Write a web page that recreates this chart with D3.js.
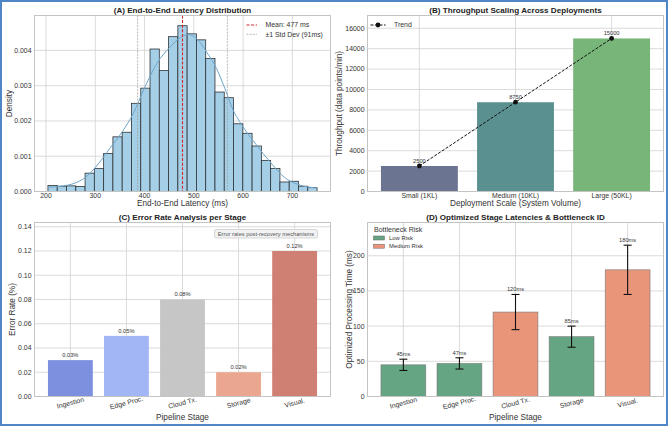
<!DOCTYPE html>
<meta charset="utf-8">
<script src="https://cdn.jsdelivr.net/npm/d3@7"></script>
<style>
  body { margin: 0; background: #fff; }
  text { font-family: "Liberation Sans", Arial, sans-serif; fill: #333; }
</style>
<div id="chart"></div>
<script>

// ---- data ----
// (A) latency histogram: 29 equal bins between latencyMin and latencyMax
var latencyMin = 204, latencyMax = 750;
var latencyDensity = [0.00017, 0.00015, 0.00016, 0.00014, 0.00052, 0.00065, 0.00108, 0.00155,
  0.00168, 0.0025, 0.00293, 0.00404, 0.00343, 0.00439, 0.0047, 0.00447, 0.0043, 0.00377,
  0.00282, 0.00266, 0.00192, 0.00165, 0.00129, 0.00088, 0.00065, 0.00027, 0.00029, 0.00015, 0.00011];
var kdeLatency = [204, 230, 255, 280, 300, 330, 355, 377, 401, 425, 452, 475, 489, 506, 526, 546, 563, 580, 593, 627, 654, 684, 721, 750];
var kdeDensity = [0.00012, 0.00015, 0.00022, 0.0004, 0.00068, 0.00123, 0.0017, 0.00221, 0.00297, 0.00363, 0.0041, 0.00438, 0.00445, 0.00433, 0.00395, 0.00349, 0.00292, 0.0023, 0.00198, 0.00132, 0.00085, 0.0004, 0.00016, 0.0001];
var meanLatency = 477, stdLatency = 91;
var latencyTicks = [200, 300, 400, 500, 600, 700];
var densityTicks = [0, 0.001, 0.002, 0.003, 0.004];

// (B) throughput
var deployments = ["Small (1KL)", "Medium (10KL)", "Large (50KL)"];
var throughput = [2500, 8750, 15000];
var throughputTicks = [0, 2000, 4000, 6000, 8000, 10000, 12000, 14000, 16000];
var deployColors = ["#6b7592", "#5a9190", "#78b578"];

// (C) error rates
var stages = ["Ingestion", "Edge Proc.", "Cloud Tx.", "Storage", "Visual."];
var errorRate = [0.03, 0.05, 0.08, 0.02, 0.12];
var errorTicks = [0, 0.02, 0.04, 0.06, 0.08, 0.10, 0.12, 0.14];
var stageColors = ["#7d90df", "#a2b6f6", "#c6c6c6", "#eba68f", "#d07f73"];

// (D) stage latencies
var stageLatency = [45, 47, 120, 85, 180];
var stageErr = [8, 8, 25, 15, 35];
var stageRisk = ["Low Risk", "Low Risk", "Medium Risk", "Low Risk", "Medium Risk"];
var stageTimeTicks = [0, 50, 100, 150, 200];
var riskColors = {"Low Risk": "#66a583", "Medium Risk": "#e9957a"};

var W = 669, H = 427;
var svg = d3.select("#chart").append("svg").attr("width", W).attr("height", H);
svg.append("rect").attr("width", W).attr("height", H).attr("fill", "#fff");

var tickFont = 6.9, labelFont = 8.2, titleFont = 8.1;

// panel frame + grid + labels
function panel(box, title, xlab, ylab, ylabX, xlabY) {
  var g = svg.append("g");
  g.append("rect").attr("x", box.x0).attr("y", box.y0)
    .attr("width", box.x1 - box.x0).attr("height", box.y1 - box.y0)
    .attr("fill", "#fff");
  g.append("text").attr("x", (box.x0 + box.x1) / 2).attr("y", box.y0 - 3)
    .attr("text-anchor", "middle").style("font-size", titleFont + "px")
    .style("font-weight", "bold").style("fill", "#222").text(title);
  g.append("text").attr("x", (box.x0 + box.x1) / 2).attr("y", xlabY)
    .attr("text-anchor", "middle").style("font-size", labelFont + "px").text(xlab);
  g.append("text").attr("transform", "translate(" + ylabX + "," + ((box.y0 + box.y1) / 2) + ") rotate(-90)")
    .attr("text-anchor", "middle").style("font-size", labelFont + "px").text(ylab);
  return g;
}
function frame(box) {
  svg.append("rect").attr("x", box.x0).attr("y", box.y0)
    .attr("width", box.x1 - box.x0).attr("height", box.y1 - box.y0)
    .attr("fill", "none").attr("stroke", "#c4c4c4").attr("stroke-width", 1);
}
function yGrid(g, box, y, ticks, fmt) {
  g.selectAll(null).data(ticks).enter().append("line")
    .attr("x1", box.x0).attr("x2", box.x1)
    .attr("y1", function(d) { return y(d); }).attr("y2", function(d) { return y(d); })
    .attr("stroke", "#d2d2d2").attr("stroke-width", 0.8);
  g.selectAll(null).data(ticks).enter().append("text")
    .attr("x", box.x0 - 3).attr("y", function(d) { return y(d); }).attr("dy", "0.35em")
    .attr("text-anchor", "end").style("font-size", tickFont + "px").text(fmt);
}
function xGrid(g, box, xs) {
  g.selectAll(null).data(xs).enter().append("line")
    .attr("y1", box.y0).attr("y2", box.y1)
    .attr("x1", function(d) { return d; }).attr("x2", function(d) { return d; })
    .attr("stroke", "#d2d2d2").attr("stroke-width", 0.8);
}

// ---------- (A) ----------
var boxA = {x0: 34.5, x1: 330.5, y0: 15.5, y1: 191.5};
var gA = panel(boxA, "(A) End-to-End Latency Distribution", "End-to-End Latency (ms)", "Density", 12, 205.5);
var xA = d3.scaleLinear().domain([176.7, 777.3]).range([boxA.x0, boxA.x1]);
var yA = d3.scaleLinear().domain([0, 0.00499]).range([boxA.y1, boxA.y0]);
xGrid(gA, boxA, latencyTicks.map(xA));
yGrid(gA, boxA, yA, densityTicks, d3.format(".3f"));
gA.selectAll(null).data(latencyTicks).enter().append("text")
  .attr("x", function(d) { return xA(d); }).attr("y", boxA.y1 + 6)
  .attr("text-anchor", "middle").style("font-size", tickFont + "px").text(function(d) { return d; });

var binW = (latencyMax - latencyMin) / latencyDensity.length;
gA.selectAll(".bin").data(latencyDensity).enter().append("rect")
  .attr("x", function(d, i) { return xA(latencyMin + i * binW); })
  .attr("width", function(d, i) { return xA(latencyMin + (i + 1) * binW) - xA(latencyMin + i * binW); })
  .attr("y", function(d) { return yA(d); })
  .attr("height", function(d) { return yA(0) - yA(d); })
  .attr("fill", "#a5cfe6").attr("stroke", "#2e3338").attr("stroke-width", 0.8);

var kde = kdeLatency.map(function(v, i) { return [v, kdeDensity[i]]; });
gA.append("path").datum(kde)
  .attr("d", d3.line().x(function(d) { return xA(d[0]); }).y(function(d) { return yA(d[1]); }).curve(d3.curveMonotoneX))
  .attr("fill", "none").attr("stroke", "#6ea7cc").attr("stroke-width", 1);

[meanLatency - stdLatency, meanLatency + stdLatency].forEach(function(v) {
  gA.append("line").attr("x1", xA(v)).attr("x2", xA(v)).attr("y1", boxA.y0).attr("y2", boxA.y1)
    .attr("stroke", "#9a9a9a").attr("stroke-width", 0.7).attr("stroke-dasharray", "2,1.2");
});
gA.append("line").attr("x1", xA(meanLatency)).attr("x2", xA(meanLatency)).attr("y1", boxA.y0).attr("y2", boxA.y1)
  .attr("stroke", "#d62728").attr("stroke-width", 1.1).attr("stroke-dasharray", "3,1.6");

var legA = [
  {label: "Mean: " + meanLatency + " ms", color: "#d62728", dash: "3,1.6", w: 1.1},
  {label: "\u00b11 Std Dev (" + stdLatency + "ms)", color: "#9a9a9a", dash: "2,1.2", w: 0.7}
];
legA.forEach(function(d, i) {
  var yy = 25 + i * 9.3;
  gA.append("line").attr("x1", 246.5).attr("x2", 257).attr("y1", yy).attr("y2", yy)
    .attr("stroke", d.color).attr("stroke-width", d.w).attr("stroke-dasharray", d.dash);
  gA.append("text").attr("x", 265.5).attr("y", yy).attr("dy", "0.35em")
    .style("font-size", "6.9px").text(d.label);
});
frame(boxA);

// ---------- (B) ----------
var boxB = {x0: 367.5, x1: 663.5, y0: 15.5, y1: 191.5};
var gB = panel(boxB, "(B) Throughput Scaling Across Deployments", "Deployment Scale (System Volume)", "Throughput (data points/min)", 341.5, 205.5);
var xB = d3.scaleBand().domain(deployments).range([boxB.x0, boxB.x1]).paddingInner(0.2).paddingOuter(0.14);
var yB = d3.scaleLinear().domain([0, 17250]).range([boxB.y1, boxB.y0]);
xGrid(gB, boxB, deployments.map(function(d) { return xB(d) + xB.bandwidth() / 2; }));
yGrid(gB, boxB, yB, throughputTicks, function(d) { return d; });
gB.selectAll(null).data(deployments).enter().append("text")
  .attr("x", function(d) { return xB(d) + xB.bandwidth() / 2; }).attr("y", boxB.y1 + 6)
  .attr("text-anchor", "middle").style("font-size", tickFont + "px").text(function(d) { return d; });
gB.selectAll(".bar").data(throughput).enter().append("rect")
  .attr("x", function(d, i) { return xB(deployments[i]); })
  .attr("width", xB.bandwidth())
  .attr("y", function(d) { return yB(d); })
  .attr("height", function(d) { return yB(0) - yB(d); })
  .attr("fill", function(d, i) { return deployColors[i]; });
var cx = function(d, i) { return xB(deployments[i]) + xB.bandwidth() / 2; };
gB.append("path").datum(throughput)
  .attr("d", d3.line().x(cx).y(function(d) { return yB(d); }))
  .attr("fill", "none").attr("stroke", "#111").attr("stroke-width", 1).attr("stroke-dasharray", "3,1.5");
gB.selectAll(".pt").data(throughput).enter().append("circle")
  .attr("cx", cx).attr("cy", function(d) { return yB(d); }).attr("r", 2.4).attr("fill", "#111");
gB.selectAll(".lbl").data(throughput).enter().append("text")
  .attr("x", cx).attr("y", function(d) { return yB(d) - 3; })
  .attr("text-anchor", "middle").style("font-size", "5.7px").text(function(d) { return d; });
gB.append("line").attr("x1", 370.5).attr("x2", 385.5).attr("y1", 25).attr("y2", 25)
  .attr("stroke", "#111").attr("stroke-width", 1).attr("stroke-dasharray", "3,1.5");
gB.append("circle").attr("cx", 378).attr("cy", 25).attr("r", 2.4).attr("fill", "#111");
gB.append("text").attr("x", 394).attr("y", 25).attr("dy", "0.35em").style("font-size", "6.9px").text("Trend");
frame(boxB);

// ---------- (C) ----------
var boxC = {x0: 34.5, x1: 330.5, y0: 222.5, y1: 396.5};
var gC = panel(boxC, "(C) Error Rate Analysis per Stage", "Pipeline Stage", "Error Rate (%)", 14.5, 419.5);
var xC = d3.scaleBand().domain(stages).range([boxC.x0, boxC.x1]).paddingInner(0.2).paddingOuter(0.24);
var yC = d3.scaleLinear().domain([0, 0.1435]).range([boxC.y1, boxC.y0]);
xGrid(gC, boxC, stages.map(function(d) { return xC(d) + xC.bandwidth() / 2; }));
yGrid(gC, boxC, yC, errorTicks, d3.format(".2f"));
function stageTicks(g, x, box) {
  g.selectAll(null).data(stages).enter().append("text")
    .attr("transform", function(d) { return "translate(" + (x(d) + x.bandwidth() / 2) + "," + (box.y1 + 6.2) + ") rotate(-15)"; })
    .attr("dy", "0.35em").attr("text-anchor", "middle").style("font-size", tickFont + "px").text(function(d) { return d; });
}
stageTicks(gC, xC, boxC);
gC.selectAll(".bar").data(errorRate).enter().append("rect")
  .attr("x", function(d, i) { return xC(stages[i]); })
  .attr("width", xC.bandwidth())
  .attr("y", function(d) { return yC(d); })
  .attr("height", function(d) { return yC(0) - yC(d); })
  .attr("fill", function(d, i) { return stageColors[i]; });
gC.selectAll(".lbl").data(errorRate).enter().append("text")
  .attr("x", function(d, i) { return xC(stages[i]) + xC.bandwidth() / 2; })
  .attr("y", function(d) { return yC(d) - 3; })
  .attr("text-anchor", "middle").style("font-size", "5.7px").text(function(d) { return d.toFixed(2) + "%"; });
gC.append("rect").attr("x", 214.5).attr("y", 229.5).attr("width", 103).attr("height", 8.5).attr("rx", 1.5)
  .attr("fill", "#f2f2f2").attr("stroke", "#c8c8c8").attr("stroke-width", 0.7);
gC.append("text").attr("x", 266).attr("y", 233.8).attr("dy", "0.35em").attr("text-anchor", "middle")
  .style("font-size", "5.7px").style("fill", "#555").text("Error rates post-recovery mechanisms");
frame(boxC);

// ---------- (D) ----------
var boxD = {x0: 367.5, x1: 663.5, y0: 222.5, y1: 396.5};
var gD = panel(boxD, "(D) Optimized Stage Latencies & Bottleneck ID", "Pipeline Stage", "Optimized Processing Time (ms)", 351.5, 419.5);
var xD = d3.scaleBand().domain(stages).range([boxD.x0, boxD.x1]).paddingInner(0.2).paddingOuter(0.24);
var yD = d3.scaleLinear().domain([0, 247.25]).range([boxD.y1, boxD.y0]);
xGrid(gD, boxD, stages.map(function(d) { return xD(d) + xD.bandwidth() / 2; }));
yGrid(gD, boxD, yD, stageTimeTicks, function(d) { return d; });
stageTicks(gD, xD, boxD);
gD.selectAll(".bar").data(stageLatency).enter().append("rect")
  .attr("x", function(d, i) { return xD(stages[i]); })
  .attr("width", xD.bandwidth())
  .attr("y", function(d) { return yD(d); })
  .attr("height", function(d) { return yD(0) - yD(d); })
  .attr("fill", function(d, i) { return riskColors[stageRisk[i]]; })
  .attr("stroke", "#7a7a7a").attr("stroke-width", 0.6);
var cxD = function(i) { return xD(stages[i]) + xD.bandwidth() / 2; };
stageLatency.forEach(function(v, i) {
  var lo = yD(v - stageErr[i]), hi = yD(v + stageErr[i]);
  gD.append("line").attr("x1", cxD(i)).attr("x2", cxD(i)).attr("y1", lo).attr("y2", hi)
    .attr("stroke", "#111").attr("stroke-width", 1.1);
  [lo, hi].forEach(function(yy) {
    gD.append("line").attr("x1", cxD(i) - 4).attr("x2", cxD(i) + 4).attr("y1", yy).attr("y2", yy)
      .attr("stroke", "#111").attr("stroke-width", 1.1);
  });
  gD.append("text").attr("x", cxD(i)).attr("y", hi - 3).attr("text-anchor", "middle")
    .style("font-size", "5.7px").text(v + "ms");
});
gD.append("text").attr("x", 374).attr("y", 230).attr("dy", "0.35em").style("font-size", "7px").text("Bottleneck Risk");
["Low Risk", "Medium Risk"].forEach(function(k, i) {
  var yy = 238 + i * 8.2;
  gD.append("rect").attr("x", 373.5).attr("y", yy - 2).attr("width", 11).attr("height", 4)
    .attr("fill", riskColors[k]).attr("stroke", "#666").attr("stroke-width", 0.5);
  gD.append("text").attr("x", 389).attr("y", yy).attr("dy", "0.35em").style("font-size", "5.9px").text(k);
});
frame(boxD);

// outer border
svg.append("rect").attr("x", 1).attr("y", 1).attr("width", W - 3).attr("height", H - 3)
  .attr("fill", "none").attr("stroke", "#4f86c6").attr("stroke-width", 2);

</script>
